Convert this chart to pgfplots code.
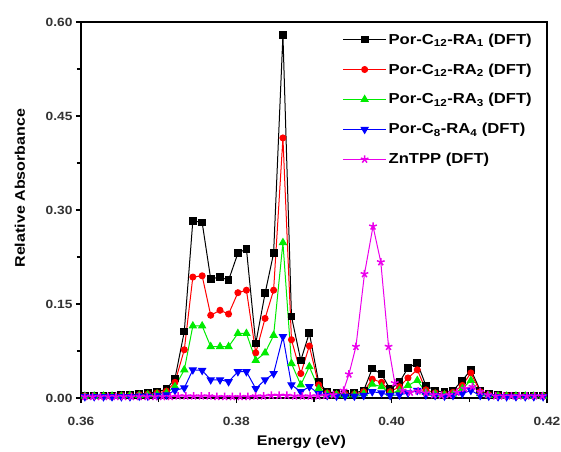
\documentclass[border=0pt]{standalone}
\usepackage{pgfplots}
\pgfplotsset{compat=1.18}
\usepackage{pgfplotstable}
\usepackage{fontspec}
\setmainfont{Liberation Sans}[FakeStretch=1.15]

\definecolor{srBlack}{RGB}{0,0,0}
\definecolor{srRed}{RGB}{255,0,0}
\definecolor{srGreen}{RGB}{0,235,0}
\definecolor{srBlue}{RGB}{0,0,255}
\definecolor{srMagenta}{RGB}{235,0,235}

% Simulated spectra (DFT) of the four porphyrin dyes on a common energy grid
\pgfplotstableread{
x       ra1    ra2    ra3    ra4
0.3605  0.004  0.003  0.003  0.002
0.3617  0.004  0.003  0.003  0.002
0.3629  0.004  0.003  0.003  0.002
0.3640  0.004  0.003  0.003  0.002
0.3652  0.005  0.004  0.003  0.002
0.3663  0.005  0.004  0.004  0.002
0.3675  0.006  0.005  0.004  0.003
0.3686  0.008  0.006  0.005  0.003
0.3698  0.010  0.008  0.006  0.004
0.3710  0.014  0.011  0.008  0.005
0.3721  0.031  0.025  0.018  0.012
0.3733  0.106  0.077  0.045  0.016
0.3744  0.283  0.193  0.115  0.045
0.3756  0.280  0.195  0.115  0.044
0.3767  0.190  0.132  0.082  0.029
0.3779  0.193  0.140  0.082  0.029
0.3790  0.188  0.134  0.082  0.026
0.3802  0.231  0.168  0.103  0.042
0.3813  0.238  0.172  0.103  0.042
0.3825  0.087  0.072  0.060  0.015
0.3837  0.167  0.127  0.072  0.029
0.3848  0.231  0.172  0.100  0.039
0.3860  0.579  0.415  0.248  0.098
0.3871  0.130  0.093  0.055  0.021
0.3883  0.060  0.039  0.021  0.010
0.3894  0.104  0.083  0.050  0.018
0.3906  0.025  0.021  0.015  0.007
0.3917  0.010  0.008  0.006  0.004
0.3929  0.008  0.006  0.005  0.003
0.3940  0.007  0.006  0.004  0.003
0.3952  0.008  0.006  0.005  0.003
0.3964  0.012  0.010  0.007  0.004
0.3975  0.047  0.030  0.022  0.010
0.3987  0.038  0.025  0.018  0.008
0.3998  0.014  0.010  0.007  0.004
0.4010  0.025  0.018  0.012  0.005
0.4021  0.048  0.032  0.020  0.008
0.4033  0.056  0.045  0.028  0.012
0.4044  0.020  0.013  0.009  0.005
0.4056  0.012  0.008  0.006  0.004
0.4068  0.009  0.006  0.005  0.003
0.4079  0.012  0.009  0.006  0.004
0.4091  0.028  0.020  0.015  0.007
0.4102  0.045  0.040  0.028  0.012
0.4114  0.012  0.010  0.007  0.004
0.4125  0.006  0.005  0.004  0.003
0.4137  0.005  0.004  0.003  0.002
0.4148  0.004  0.004  0.003  0.002
0.4160  0.004  0.003  0.003  0.002
0.4172  0.004  0.003  0.003  0.002
0.4183  0.004  0.003  0.003  0.002
0.4195  0.004  0.003  0.003  0.002
}\dyes

% Reference ZnTPP spectrum (DFT)
\pgfplotstableread{
x       y
0.3605  0.002
0.3615  0.002
0.3625  0.002
0.3635  0.002
0.3645  0.002
0.3655  0.002
0.3665  0.002
0.3675  0.002
0.3685  0.002
0.3695  0.002
0.3705  0.002
0.3715  0.002
0.3725  0.003
0.3735  0.003
0.3745  0.003
0.3755  0.003
0.3765  0.003
0.3775  0.002
0.3785  0.002
0.3795  0.002
0.3805  0.002
0.3815  0.002
0.3825  0.003
0.3835  0.003
0.3845  0.004
0.3855  0.004
0.3865  0.004
0.3875  0.003
0.3885  0.003
0.3895  0.003
0.3905  0.003
0.3915  0.004
0.3925  0.005
0.3938  0.012
0.3945  0.038
0.3954  0.082
0.3965  0.198
0.3976  0.274
0.3986  0.217
0.3996  0.082
0.4004  0.024
0.4014  0.012
0.4024  0.009
0.4034  0.011
0.4044  0.008
0.4054  0.005
0.4064  0.004
0.4074  0.005
0.4084  0.009
0.4094  0.015
0.4104  0.018
0.4114  0.010
0.4124  0.005
0.4134  0.003
0.4144  0.003
0.4154  0.003
0.4164  0.003
0.4174  0.003
0.4184  0.003
0.4194  0.003
}\zntpp

\begin{document}
\begin{tikzpicture}
\path[use as bounding box] (-81bp,-54bp) rectangle (480bp,398bp);
\begin{axis}[
  at={(0,0)}, anchor=south west,
  width=466bp, height=376bp, scale only axis,
  xmin=0.36, xmax=0.42, ymin=0, ymax=0.6,
  xtick={0.36,0.38,0.40,0.42},
  minor xtick={0.37,0.39,0.41},
  ytick={0,0.15,0.30,0.45,0.60},
  minor ytick={0.075,0.225,0.375,0.525},
  tick pos=left, tick align=outside,
  major tick length=5bp, minor tick length=4bp,
  every tick/.style={black, line width=1.3bp},
  axis line style={line width=1.6bp},
  /pgf/number format/assume math mode=true,
  xticklabel style={yshift=-11bp, /pgf/number format/.cd, fixed, fixed zerofill, precision=2},
  yticklabel style={/pgf/number format/.cd, fixed, fixed zerofill, precision=2},
  tick label style={font=\fontsize{12}{14}\selectfont\bfseries, text=black!80},
  xlabel={Energy (eV)},
  ylabel={Relative Absorbance},
  label style={font=\fontsize{14}{16}\selectfont\bfseries},
  xlabel style={at={(axis description cs:0.473,-0.118)}, anchor=center, inner sep=0pt},
  ylabel style={at={(axis description cs:-0.131,0.558)}, anchor=center, inner sep=0pt},
  clip=false,
  legend style={at={(axis description cs:0.972,0.975)}, anchor=north east,
    draw=none, fill=none, inner sep=0pt, row sep=14bp,
    font=\fontsize{14.5}{16}\selectfont\bfseries,
    /tikz/every even column/.append style={column sep=3bp}},
  legend cell align=left,
  legend image code/.code={\draw[mark repeat=2, mark phase=2, #1]
    plot coordinates {(0bp,0bp) (21.5bp,0bp) (43bp,0bp)};},
  every axis plot/.append style={line width=1bp, mark options={solid}},
]
\addplot[srBlack, mark=square*, mark size=3.4bp] table[x=x, y=ra1] {\dyes};
\addlegendentry{Por-C\textsubscript{12}-RA\textsubscript{1} (DFT)}
\addplot[srRed, mark=*, mark size=3bp] table[x=x, y=ra2] {\dyes};
\addlegendentry{Por-C\textsubscript{12}-RA\textsubscript{2} (DFT)}
\addplot[srGreen, mark=triangle*, mark size=4bp] table[x=x, y=ra3] {\dyes};
\addlegendentry{Por-C\textsubscript{12}-RA\textsubscript{3} (DFT)}
\addplot[srBlue, mark=triangle*, mark options={rotate=180}, mark size=4bp] table[x=x, y=ra4] {\dyes};
\addlegendentry{Por-C\textsubscript{8}-RA\textsubscript{4} (DFT)}
\addplot[srMagenta, mark=star, mark size=4bp, mark options={line width=1.5bp}] table[x=x, y=y] {\zntpp};
\addlegendentry{ZnTPP (DFT)}
\end{axis}
\end{tikzpicture}
\end{document}
